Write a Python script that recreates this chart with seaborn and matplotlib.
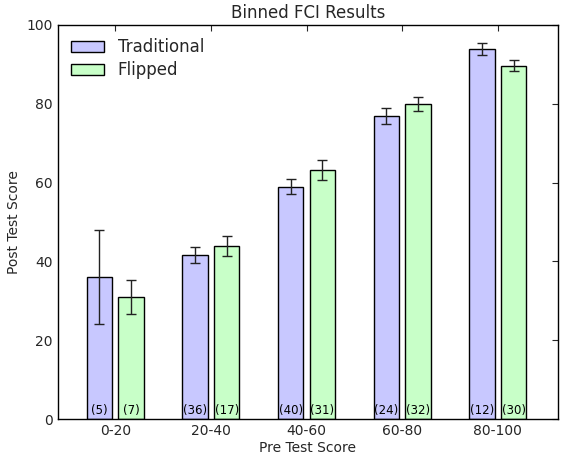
import seaborn as sns
import pandas as pd
import matplotlib.pyplot as plt

# Binned pre-test scores and mean post-test scores
bins = ['0-20', '20-40', '40-60', '60-80', '80-100']
groups = ['Traditional', 'Flipped']
trad_mean = [36.0, 41.7, 59.0, 76.9, 93.8]
trad_err = [12.0, 2.0, 1.9, 2.0, 1.5]
trad_n = [5, 36, 40, 24, 12]
flip_mean = [31.0, 44.0, 63.2, 79.9, 89.7]
flip_err = [4.4, 2.5, 2.5, 1.8, 1.3]
flip_n = [7, 17, 31, 32, 30]

df = pd.DataFrame({
    'Bin': bins * 2,
    'Group': ['Traditional'] * 5 + ['Flipped'] * 5,
    'Score': trad_mean + flip_mean,
})

sns.set_style('white')
plt.rcParams['font.family'] = ['DejaVu Sans']

fig = plt.figure(figsize=(5.61, 4.54), dpi=100)
ax = fig.add_axes([0.103, 0.077, 0.892, 0.868])

sns.barplot(data=df, x='Bin', y='Score', hue='Group', order=bins, hue_order=groups,
            palette=['#c8c8ff', '#c8ffc8'], edgecolor='black', linewidth=1,
            width=0.66, gap=0.2, errorbar=None, saturation=1, ax=ax)

errs = [trad_err, flip_err]
counts = [trad_n, flip_n]
for container, err, n in zip(ax.containers, errs, counts):
    xs = [p.get_x() + p.get_width() / 2 for p in container]
    ys = [p.get_height() for p in container]
    ax.errorbar(xs, ys, yerr=err, fmt='none', ecolor='#222222', elinewidth=1,
                capsize=3.5, capthick=1)
    for x, c in zip(xs, n):
        ax.text(x, 0.6, f'({c})', ha='center', va='bottom', fontsize=8.5, color='black')

ax.set_xlim(-0.6, 4.63)
ax.set_ylim(0, 100)
ax.set_yticks([0, 20, 40, 60, 80, 100])
ax.tick_params(direction='in', top=True, right=True, length=4, labelsize=10)
for s in ax.spines.values():
    s.set_linewidth(1)
    s.set_color('black')

ax.set_title('Binned FCI Results', fontsize=12, pad=5)
ax.set_xlabel('Pre Test Score', fontsize=10, labelpad=2)
ax.set_ylabel('Post Test Score', fontsize=10)
ax.legend(loc='upper left', frameon=False, fontsize=12, handlelength=2.0,
          borderaxespad=0.4, handletextpad=0.8, labelspacing=0.3)

plt.savefig('out.png', dpi=100)
